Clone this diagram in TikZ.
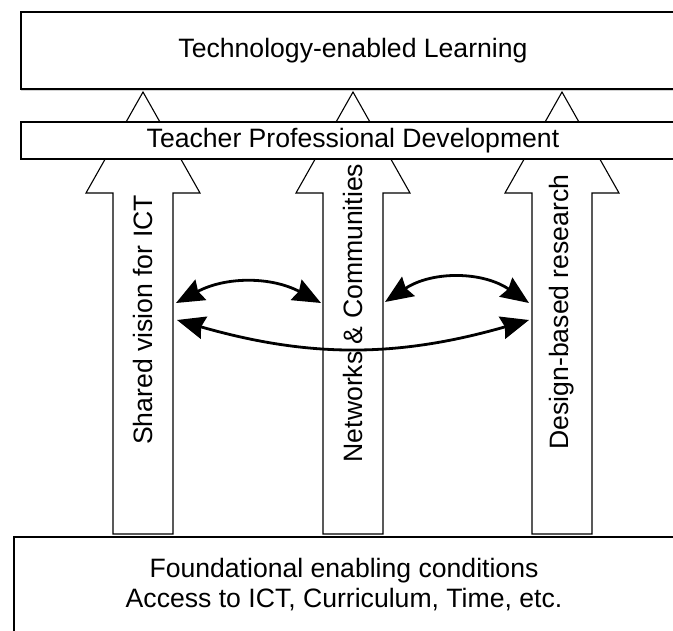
\documentclass[tikz,border=0pt]{standalone}
\usepackage{fontspec}
\setmainfont{Liberation Sans}
\usetikzlibrary{arrows.meta,shadows}
\begin{document}
\begin{tikzpicture}[x=1pt,y=-1pt,
  labelfont/.style={font=\fontsize{26.6}{30}\selectfont},
  layerbox/.style={draw, fill=white, inner sep=0pt, labelfont},
  blockarrow/.style={draw, line width=1.1pt, fill=white, line join=miter},
  arrowtext/.style={labelfont, rotate=90, inner sep=0pt},
  link/.style={line width=2.8pt,
    {Stealth[length=28pt,width=23pt,inset=3pt]}-{Stealth[length=28pt,width=23pt,inset=3pt]}}]
\useasboundingbox (0,0) rectangle (673,631);
\clip (0,0) rectangle (673,631);
\fill[white] (0,0) rectangle (673,631);

% three upward block arrows with their rotated labels
\foreach \c/\n/\t/\ty in {143/sv/{Shared vision for ICT}/320,
                           353/nc/{Networks \& Communities}/313,
                           562/dr/{Design-based research}/312}{
  \draw[blockarrow] (\c,92) -- (\c+57,193) -- (\c+30,193) -- (\c+30,534)
    -- (\c-30,534) -- (\c-30,193) -- (\c-57,193) -- cycle;
  \node[arrowtext] (\n) at (\c,\ty) {\t};
}

% layers
\node[layerbox, line width=1.8pt, minimum width=664, minimum height=77,
  drop shadow={shadow xshift=0pt, shadow yshift=-2.5pt, opacity=0.35}]
  (tel) at (353,50.5) {Technology-enabled Learning};
\node[layerbox, line width=1.4pt, minimum width=664, minimum height=37]
  (tpd) at (353,140.5) {Teacher Professional Development};
\node[layerbox, line width=2pt, minimum width=660, minimum height=96, align=center]
  (fec) at (344,585) {Foundational enabling conditions\\Access to ICT, Curriculum, Time, etc.};

% ends of the links on the arrow shafts
\coordinate (sv-up) at (176,303);
\coordinate (nc-wu) at (321,303);
\coordinate (nc-eu) at (385,302);
\coordinate (dr-up) at (529,303);
\coordinate (sv-lo) at (177,320);
\coordinate (dr-lo) at (529,320);

\draw[link] (sv-up) to[bend left=28] (nc-wu);
\draw[link] (nc-eu) to[bend left=34] (dr-up);
\draw[link] (sv-lo) to[bend right=16] (dr-lo);
\end{tikzpicture}
\end{document}
